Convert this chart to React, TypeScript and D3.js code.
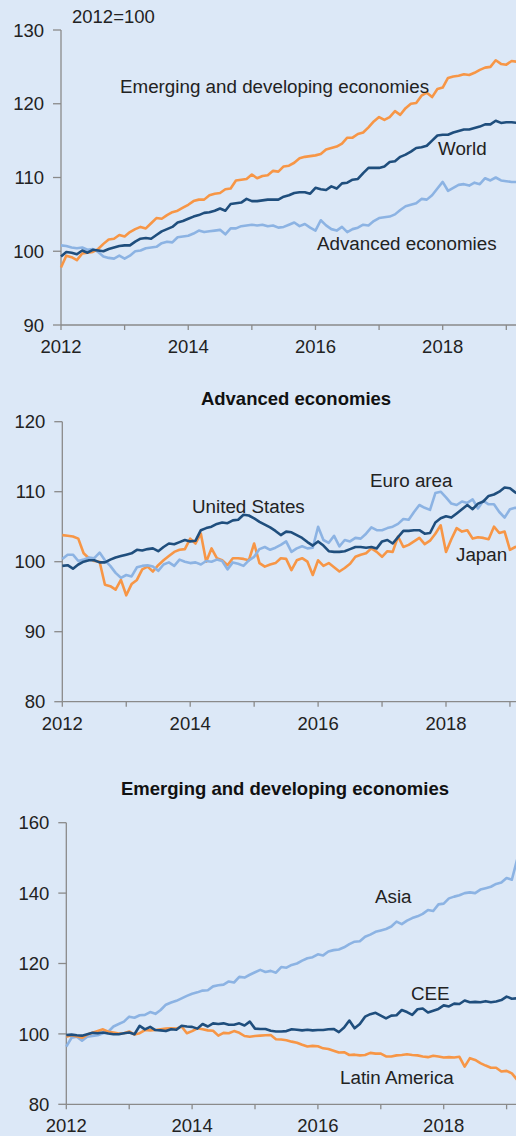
import React from "react";
import * as d3 from "d3";

// monthly observations, Jan 2012 onward (2012 = 100)
const START_YEAR = 2012;

const worldEmerging = [
  97.8, 99.4, 99.2, 98.8, 99.7, 99.8, 99.9, 100.3, 101.0, 101.6, 101.7, 102.2,
  102.0, 102.6, 103.0, 103.3, 103.1, 103.8, 104.5, 104.4, 104.9, 105.3, 105.5, 105.9,
  106.3, 106.8, 107.0, 107.0, 107.6, 107.8, 107.9, 108.4, 108.5, 109.6, 109.7, 109.8,
  110.4, 109.9, 110.2, 110.3, 110.9, 110.8, 111.5, 111.6, 112.0, 112.6, 112.8, 112.9,
  113.0, 113.2, 113.8, 114.0, 114.2, 114.6, 115.4, 115.4, 115.9, 116.1, 116.8, 117.6,
  118.2, 117.8, 118.2, 119.0, 118.5, 119.4, 120.0, 120.1, 121.1, 121.5, 120.9, 122.0,
  122.2, 123.5, 123.7, 123.8, 124.0, 123.9, 124.2, 124.6, 124.9, 125.0, 125.9, 125.4,
  125.3, 125.8, 125.7,
];
const worldTotal = [
  99.3, 99.9, 99.8, 99.6, 100.1, 99.8, 100.2, 100.1, 100.0, 100.3, 100.5, 100.7,
  100.8, 100.8, 101.3, 101.7, 101.8, 101.7, 102.2, 102.7, 103.0, 103.3, 103.9, 104.1,
  104.4, 104.7, 104.9, 105.2, 105.3, 105.5, 105.8, 105.5, 106.4, 106.5, 106.6, 107.1,
  106.8, 106.8, 106.9, 107.0, 107.0, 107.0, 107.4, 107.6, 107.9, 108.0, 108.0, 107.8,
  108.6, 108.4, 108.3, 108.8, 108.5, 109.2, 109.3, 109.7, 109.8, 110.6, 111.3, 111.3,
  111.3, 111.5, 112.1, 112.2, 112.8, 113.1, 113.5, 114.0, 114.1, 114.3, 115.0, 115.7,
  115.8, 115.8, 116.1, 116.3, 116.5, 116.5, 116.7, 116.9, 117.2, 117.2, 117.7, 117.4,
  117.5, 117.5, 117.4,
];
const worldAdvanced = [
  100.8, 100.7, 100.5, 100.4, 100.5, 100.2, 100.3, 99.9, 99.3, 99.1, 99.0, 99.4,
  99.0, 99.4, 100.0, 100.1, 100.4, 100.5, 100.6, 101.1, 101.3, 101.2, 101.9, 102.0,
  102.1, 102.4, 102.8, 102.6, 102.7, 102.8, 102.9, 102.3, 103.1, 103.1, 103.4, 103.5,
  103.6, 103.5, 103.6, 103.4, 103.5, 103.2, 103.3, 103.6, 103.9, 103.4, 103.7, 103.2,
  102.8, 104.2, 103.5, 103.0, 102.8, 103.3, 102.6, 103.0, 103.2, 103.6, 103.5, 104.1,
  104.5, 104.6, 104.7, 105.0, 105.6, 106.1, 106.3, 106.5, 107.1, 107.0, 107.6, 108.5,
  109.4, 108.2, 108.6, 109.0, 109.1, 108.9, 109.3, 109.1, 109.9, 109.6, 110.0, 109.6,
  109.5, 109.4, 109.4,
];

const unitedStates = [
  99.4, 99.5, 99.0, 99.6, 100.0, 100.2, 100.2, 99.9, 99.9, 100.3, 100.6, 100.8,
  101.0, 101.2, 101.7, 101.6, 101.8, 101.9, 101.5, 102.1, 102.6, 102.5, 102.8, 103.1,
  102.9, 103.0, 104.5, 104.8, 105.0, 105.4, 105.6, 105.5, 105.9, 106.0, 106.7, 106.6,
  106.2, 105.7, 105.3, 104.9, 104.4, 103.8, 104.3, 104.2, 103.8, 103.4, 102.8, 102.3,
  102.9, 102.3, 101.5, 101.4, 101.4, 101.5, 101.8, 102.1, 102.1, 102.0, 102.1, 101.9,
  102.9, 103.1, 102.6, 103.5, 104.4, 104.4, 104.5, 104.5, 104.0, 104.1, 105.6, 106.2,
  106.5, 106.3, 106.9, 107.5, 108.1, 107.5, 108.3, 108.6, 109.4, 109.6, 110.0, 110.6,
  110.5, 109.9, 109.5,
];
const euroArea = [
  100.4, 101.0, 101.0, 100.1, 100.3, 100.6, 100.5, 101.3, 100.2, 99.4, 98.4, 97.7,
  98.1, 97.9, 99.2, 99.4, 99.5, 99.3, 98.7, 99.6, 99.9, 99.4, 100.3, 100.0,
  99.8, 99.9, 99.6, 100.1, 100.0, 100.3, 100.1, 98.9, 99.9, 99.7, 99.4, 100.2,
  100.7, 101.8, 102.1, 101.7, 102.0, 102.4, 102.9, 101.4, 101.9, 102.2, 101.9, 102.0,
  105.0, 103.1, 102.7, 103.7, 102.2, 103.1, 102.9, 103.4, 103.3, 104.0, 104.9, 104.5,
  104.5, 104.8, 105.0, 105.4, 106.1, 106.0, 107.1, 108.1, 107.7, 107.4, 109.8, 110.0,
  109.2, 108.3, 108.1, 108.6, 108.4, 108.9, 107.6, 108.7, 108.2, 108.2, 107.1, 106.3,
  107.5, 107.7, 107.6,
];
const japan = [
  103.8, 103.7, 103.6, 103.3, 101.2, 100.5, 100.1, 100.0, 96.7, 96.5, 96.0, 97.4,
  95.2, 96.8, 97.4, 98.9, 99.3, 98.6, 99.5, 100.2, 100.8, 101.4, 101.7, 101.8,
  103.3, 102.6, 104.0, 100.0, 101.9, 100.5, 100.2, 99.5, 100.5, 100.5, 100.4, 100.2,
  102.6, 99.8, 99.3, 99.6, 99.8, 100.5, 100.4, 98.8, 100.2, 100.5, 100.0, 98.1,
  100.2, 99.4, 99.8, 99.2, 98.6, 99.1, 99.7, 100.7, 101.0, 101.2, 101.9, 101.4,
  100.7, 101.5, 101.4, 103.6, 102.1, 102.4, 102.9, 103.4, 102.5, 103.0, 104.0, 105.2,
  101.4, 103.2, 104.8, 104.3, 104.5, 103.3, 103.5, 103.4, 103.2, 105.0, 104.1, 104.3,
  101.7, 102.1, 102.3,
];

const asia = [
  96.4, 98.9, 99.2, 98.1, 99.2, 99.4, 99.6, 100.2, 100.6, 102.1, 102.8, 103.5,
  104.9, 104.6, 105.3, 105.4, 106.2, 105.7, 106.8, 108.3, 108.9, 109.4, 110.1, 110.8,
  111.4, 111.8, 112.3, 112.4, 113.5, 113.8, 114.0, 114.9, 114.6, 116.2, 116.0, 116.8,
  117.5, 118.2, 117.6, 117.9, 117.4, 119.0, 118.8, 119.6, 120.0, 120.8, 121.5, 121.8,
  122.6, 122.3, 123.4, 123.8, 124.0, 124.6, 125.5, 126.2, 126.3, 127.6, 128.2, 129.0,
  129.4, 129.8, 130.5, 131.9, 131.2, 132.2, 132.9, 133.4, 134.1, 135.2, 134.9, 136.8,
  137.0, 138.5, 139.0, 139.4, 140.0, 140.2, 140.0, 141.0, 141.4, 141.8, 142.6, 143.0,
  144.3, 143.8, 149.5,
];
const cee = [
  99.7, 99.8, 99.6, 99.5, 99.9, 100.3, 100.2, 100.4, 100.1, 99.9, 99.9, 100.2,
  100.4, 99.9, 102.3, 101.3, 102.0, 101.1, 101.0, 100.8, 101.3, 101.2, 102.3, 102.1,
  102.0, 101.5, 102.8, 102.1, 103.0, 102.8, 103.0, 102.6, 102.6, 103.0, 102.4, 103.5,
  101.5, 101.4, 101.4, 100.9, 100.7, 100.7, 100.8, 101.3, 101.2, 101.0, 101.2, 101.0,
  101.1, 101.1, 101.3, 101.4, 100.5, 101.8, 103.8, 101.6, 102.8, 104.9, 105.6, 106.0,
  105.2, 104.4, 105.2, 105.3, 106.8, 106.2, 105.4, 107.0, 107.2, 106.1, 106.6, 107.1,
  108.1, 107.8, 108.6, 108.5, 109.5, 109.0, 109.1, 109.0, 109.3, 109.0, 109.2, 109.6,
  110.6, 110.0, 110.1,
];
const latinAmerica = [
  99.2, 99.6, 99.3, 98.9, 99.8, 100.3, 100.8, 101.3, 100.6, 100.4, 100.1, 100.2,
  100.7, 99.8, 100.2, 101.1, 101.0, 101.1, 101.3, 101.5, 101.6, 101.5, 102.1, 100.2,
  100.8, 101.6, 101.3, 101.0, 100.9, 99.5, 100.3, 100.2, 100.8, 100.3, 99.4, 99.2,
  99.4, 99.5, 99.6, 99.7, 98.5, 98.4, 98.2, 97.8, 97.5, 96.9, 96.4, 96.6,
  96.5, 95.9, 95.7, 95.2, 94.7, 94.8, 94.0, 94.1, 93.9, 94.0, 94.6, 94.4,
  94.4, 93.6, 93.6, 93.9, 94.0, 94.2, 94.0, 93.9, 93.6, 93.4, 93.8, 93.6,
  93.3, 93.4, 93.3, 93.5, 90.7, 93.1, 92.6, 91.7, 91.0, 90.4, 90.4, 89.3,
  89.5, 88.8, 87.0,
];

const xTickYears = [2012, 2013, 2014, 2015, 2016, 2017, 2018, 2019];
const xLabelYears = [2012, 2014, 2016, 2018];

const BG = "#dce8f7";
const ORANGE = "#f79646";
const DARK = "#1f4e7d";
const LIGHT = "#8cb3e3";
const AXIS = "#8a8a8a";
const FONT = "'Liberation Sans', Arial, sans-serif";

type Series = { values: number[]; color: string };
type Label = { text: string; x: number; y: number };

type PanelProps = {
  title?: string;
  titleX?: number;
  titleY?: number;
  xRange: [number, number];
  yRange: [number, number];
  yDomain: [number, number];
  yTicks: number[];
  series: Series[];
  labels: Label[];
  note?: Label;
};

const Panel = ({ title, titleX, titleY, xRange, yRange, yDomain, yTicks, series, labels, note }: PanelProps) => {
  const x = d3.scaleLinear().domain([2012, 2018]).range(xRange);
  const y = d3.scaleLinear().domain(yDomain).range(yRange);
  const line = d3
    .line<number>()
    .x((_, i) => x(START_YEAR + i / 12))
    .y((d) => y(d));
  const x0 = x(2012);
  const yBase = y(yDomain[0]);

  return (
    <g>
      {title && (
        <text x={titleX} y={titleY} textAnchor="middle" fontWeight="bold" fontSize={18.5} fill="#111">
          {title}
        </text>
      )}
      {note && (
        <text x={note.x} y={note.y} fontSize={18.5} fill="#222">
          {note.text}
        </text>
      )}
      <line x1={x0} x2={x0} y1={y(yDomain[1])} y2={yBase} stroke={AXIS} strokeWidth={1.3} />
      {yTicks.map((t) => (
        <g key={t}>
          <line x1={x0 - 8} x2={x0} y1={y(t)} y2={y(t)} stroke={AXIS} strokeWidth={1.3} />
          <text x={x0 - 17} y={y(t)} dy="0.36em" textAnchor="end" fontSize={18.5} fill="#222">
            {t}
          </text>
        </g>
      ))}
      <line x1={x0} x2={520} y1={yBase} y2={yBase} stroke={AXIS} strokeWidth={1.3} />
      {xTickYears.map((t) => (
        <line key={t} x1={x(t)} x2={x(t)} y1={yBase} y2={yBase + 5} stroke={AXIS} strokeWidth={1.3} />
      ))}
      {xLabelYears.map((t) => (
        <text key={t} x={x(t)} y={yBase + 28} textAnchor="middle" fontSize={18.5} fill="#222">
          {t}
        </text>
      ))}
      {series.map((s, i) => (
        <path
          key={i}
          d={line(s.values) ?? ""}
          fill="none"
          stroke={s.color}
          strokeWidth={2.6}
          strokeLinejoin="round"
        />
      ))}
      {labels.map((l) => (
        <text key={l.text} x={l.x} y={l.y} fontSize={18.8} fill="#222">
          {l.text}
        </text>
      ))}
    </g>
  );
};

export default function App() {
  return (
    <svg
      width={516}
      height={1136}
      style={{ position: "absolute", left: 0, top: 0, fontFamily: FONT }}
    >
      <rect width={516} height={1136} fill={BG} />
      <Panel
        xRange={[61, 442.7]}
        yRange={[325, 30]}
        yDomain={[90, 130]}
        yTicks={[90, 100, 110, 120, 130]}
        note={{ text: "2012=100", x: 72, y: 23 }}
        series={[
          { values: worldAdvanced, color: LIGHT },
          { values: worldEmerging, color: ORANGE },
          { values: worldTotal, color: DARK },
        ]}
        labels={[
          { text: "Emerging and developing economies", x: 120, y: 93 },
          { text: "World", x: 438, y: 155 },
          { text: "Advanced economies", x: 317, y: 250 },
        ]}
      />
      <Panel
        title="Advanced economies"
        titleX={296}
        titleY={405}
        xRange={[62.3, 446]}
        yRange={[701.7, 421.7]}
        yDomain={[80, 120]}
        yTicks={[80, 90, 100, 110, 120]}
        series={[
          { values: japan, color: ORANGE },
          { values: euroArea, color: LIGHT },
          { values: unitedStates, color: DARK },
        ]}
        labels={[
          { text: "United States", x: 192, y: 513 },
          { text: "Euro area", x: 370, y: 487 },
          { text: "Japan", x: 456, y: 561 },
        ]}
      />
      <Panel
        title="Emerging and developing economies"
        titleX={285}
        titleY={795}
        xRange={[66.3, 443.7]}
        yRange={[1104.3, 822.7]}
        yDomain={[80, 160]}
        yTicks={[80, 100, 120, 140, 160]}
        series={[
          { values: asia, color: LIGHT },
          { values: latinAmerica, color: ORANGE },
          { values: cee, color: DARK },
        ]}
        labels={[
          { text: "Asia", x: 375, y: 903 },
          { text: "CEE", x: 411, y: 1000 },
          { text: "Latin America", x: 340, y: 1084 },
        ]}
      />
    </svg>
  );
}
